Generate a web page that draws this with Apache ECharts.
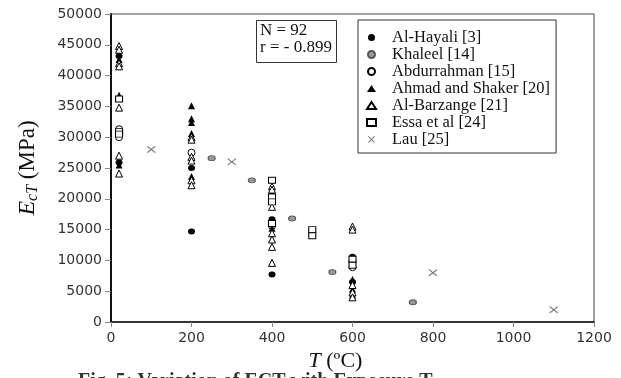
<!DOCTYPE html>
<html>
<head>
<meta charset="utf-8">
<script src="https://cdn.jsdelivr.net/npm/echarts@6/dist/echarts.min.js"></script>
<style>
  html, body { margin: 0; padding: 0; background: #fff; }
  #chart { width: 621px; height: 378px; }
</style>
</head>
<body>
<div id="chart"></div>
<script>
// Elastic modulus E_cT (MPa) against exposure temperature T (°C), by source
const xTicks = [0, 200, 400, 600, 800, 1000, 1200];
const yTicks = [0, 5000, 10000, 15000, 20000, 25000, 30000, 35000, 40000, 45000, 50000];

const alHayali = [[20, 43200], [20, 30300], [20, 25900], [200, 25000], [200, 14700],
  [400, 16700], [400, 16300], [400, 7700], [600, 10600], [600, 6500]];
const khaleel = [[250, 26600], [350, 23000], [450, 16800], [550, 8100], [750, 3200]];
const abdurrahman = [[20, 31300], [20, 30000], [200, 27500], [400, 20000], [400, 15600],
  [600, 9800], [600, 8900]];
const ahmadShaker = [[20, 42600], [20, 36800], [20, 25500], [200, 35100], [200, 33000],
  [200, 32400], [200, 30600], [200, 23600], [400, 21000], [400, 15200], [600, 6900],
  [600, 5300], [600, 4400]];
const alBarzange = [[20, 44800], [20, 44200], [20, 42000], [20, 41500], [20, 34800],
  [20, 27000], [20, 24100], [200, 30000], [200, 29600], [200, 26800], [200, 26200],
  [200, 23000], [200, 22200], [400, 22000], [400, 21500], [400, 18700], [400, 14400],
  [400, 13400], [400, 12200], [400, 9600], [600, 15500], [600, 15000], [600, 6000],
  [600, 4800], [600, 4000]];
const essa = [[20, 36200], [20, 30900], [20, 30500], [400, 23000], [400, 20300],
  [400, 19500], [400, 16000], [500, 15000], [500, 14000], [600, 10200], [600, 9200]];
const lau = [[100, 28000], [300, 26000], [800, 8000], [1100, 2000]];

const statLines = ['N = 92', 'r = - 0.899'];
const caption = 'Fig. 5: Variation of ECT with Exposure T';

const crossPath = 'path://M0,1L1,0L5,4L9,0L10,1L6,5L10,9L9,10L5,6L1,10L0,9L4,5Z';

function scatter(name, data, symbol, size, fill, stroke) {
  return {
    name: name, type: 'scatter', data: data, symbol: symbol, symbolSize: size,
    itemStyle: { color: fill, borderColor: stroke, borderWidth: stroke ? 1 : 0, opacity: 1 },
    emphasis: { disabled: true }, z: 3
  };
}

const serif = '"Liberation Serif", "DejaVu Serif", serif';
const sans = '"DejaVu Sans", sans-serif';
const plain = function (v) { return String(v); };

const chart = echarts.init(document.getElementById('chart'), null, { renderer: 'canvas' });
chart.setOption({
  animation: false,
  backgroundColor: '#fff',
  grid: { left: 111, right: 27, top: 14, bottom: 56, show: true, borderColor: '#444', borderWidth: 1 },
  xAxis: {
    type: 'value', min: xTicks[0], max: xTicks[xTicks.length - 1], interval: 200,
    splitLine: { show: false },
    axisLine: { lineStyle: { color: '#111', width: 1.5 } },
    axisTick: { show: true, length: 5, lineStyle: { color: '#888' } },
    axisLabel: { margin: 9, color: '#333', fontFamily: sans, fontSize: 14, formatter: plain },
    name: '{i|T} ({n|\u00baC})', nameLocation: 'middle', nameGap: 26,
    nameTextStyle: {
      fontFamily: serif, fontSize: 22, color: '#111', padding: [0, 34, 0, 0],
      rich: {
        i: { fontFamily: serif, fontSize: 22, fontStyle: 'italic', color: '#111' },
        n: { fontFamily: serif, fontSize: 22, color: '#111' }
      }
    }
  },
  yAxis: {
    type: 'value', min: yTicks[0], max: yTicks[yTicks.length - 1], interval: 5000,
    splitLine: { show: false },
    axisLine: { lineStyle: { color: '#111', width: 2 } },
    axisTick: { show: true, length: 6, lineStyle: { color: '#888' } },
    axisLabel: { margin: 9, color: '#333', fontFamily: sans, fontSize: 14, formatter: plain },
    name: '{e|E}{s|cT} {n|(MPa)}', nameLocation: 'middle', nameGap: 70,
    nameTextStyle: {
      fontFamily: serif, fontSize: 23, color: '#111',
      rich: {
        e: { fontFamily: serif, fontSize: 24, fontStyle: 'italic', color: '#111' },
        s: { fontFamily: serif, fontSize: 16, fontStyle: 'italic', color: '#111', padding: [11, 0, 0, 0] },
        n: { fontFamily: serif, fontSize: 23, color: '#111' }
      }
    }
  },
  legend: {
    orient: 'vertical', left: 358, top: 20,
    padding: [9, 6, 5, 8],
    borderColor: '#333', borderWidth: 1, backgroundColor: '#fff',
    itemWidth: 9, itemHeight: 7, itemGap: 0,
    textStyle: { fontFamily: serif, fontSize: 16.5, color: '#111', lineHeight: 16.6, padding: [0, 0, 0, 11] },
    selectedMode: false
  },
  graphic: [
    { type: 'rect', left: 256, top: 20, shape: { width: 80, height: 42 },
      style: { fill: '#fff', stroke: '#333', lineWidth: 1 }, z: 10 },
    { type: 'text', left: 260, top: 22, z: 11,
      style: { text: statLines[0], font: '17px ' + serif, fill: '#111' } },
    { type: 'text', left: 260, top: 39, z: 11,
      style: { text: statLines[1], font: '17px ' + serif, fill: '#111' } },
    { type: 'text', left: 78, top: 372, z: 11,
      style: { text: caption, font: 'bold 20px ' + serif, fill: '#333' } }
  ],
  series: [
    scatter('Al-Hayali [3]', alHayali, 'circle', [7, 6], '#000', null),
    scatter('Khaleel [14]', khaleel, 'circle', [7, 5], '#9a9a9a', '#555'),
    scatter('Abdurrahman [15]', abdurrahman, 'circle', 7, '#fff', '#000'),
    scatter('Ahmad and Shaker [20]', ahmadShaker, 'triangle', [7, 7], '#000', null),
    scatter('Al-Barzange [21]', alBarzange, 'triangle', [7, 7], '#fff', '#000'),
    scatter('Essa et al [24]', essa, 'rect', [7, 6], '#fff', '#000'),
    scatter('Lau [25]', lau, crossPath, [9, 7], '#777', null)
  ]
});
</script>
</body>
</html>
